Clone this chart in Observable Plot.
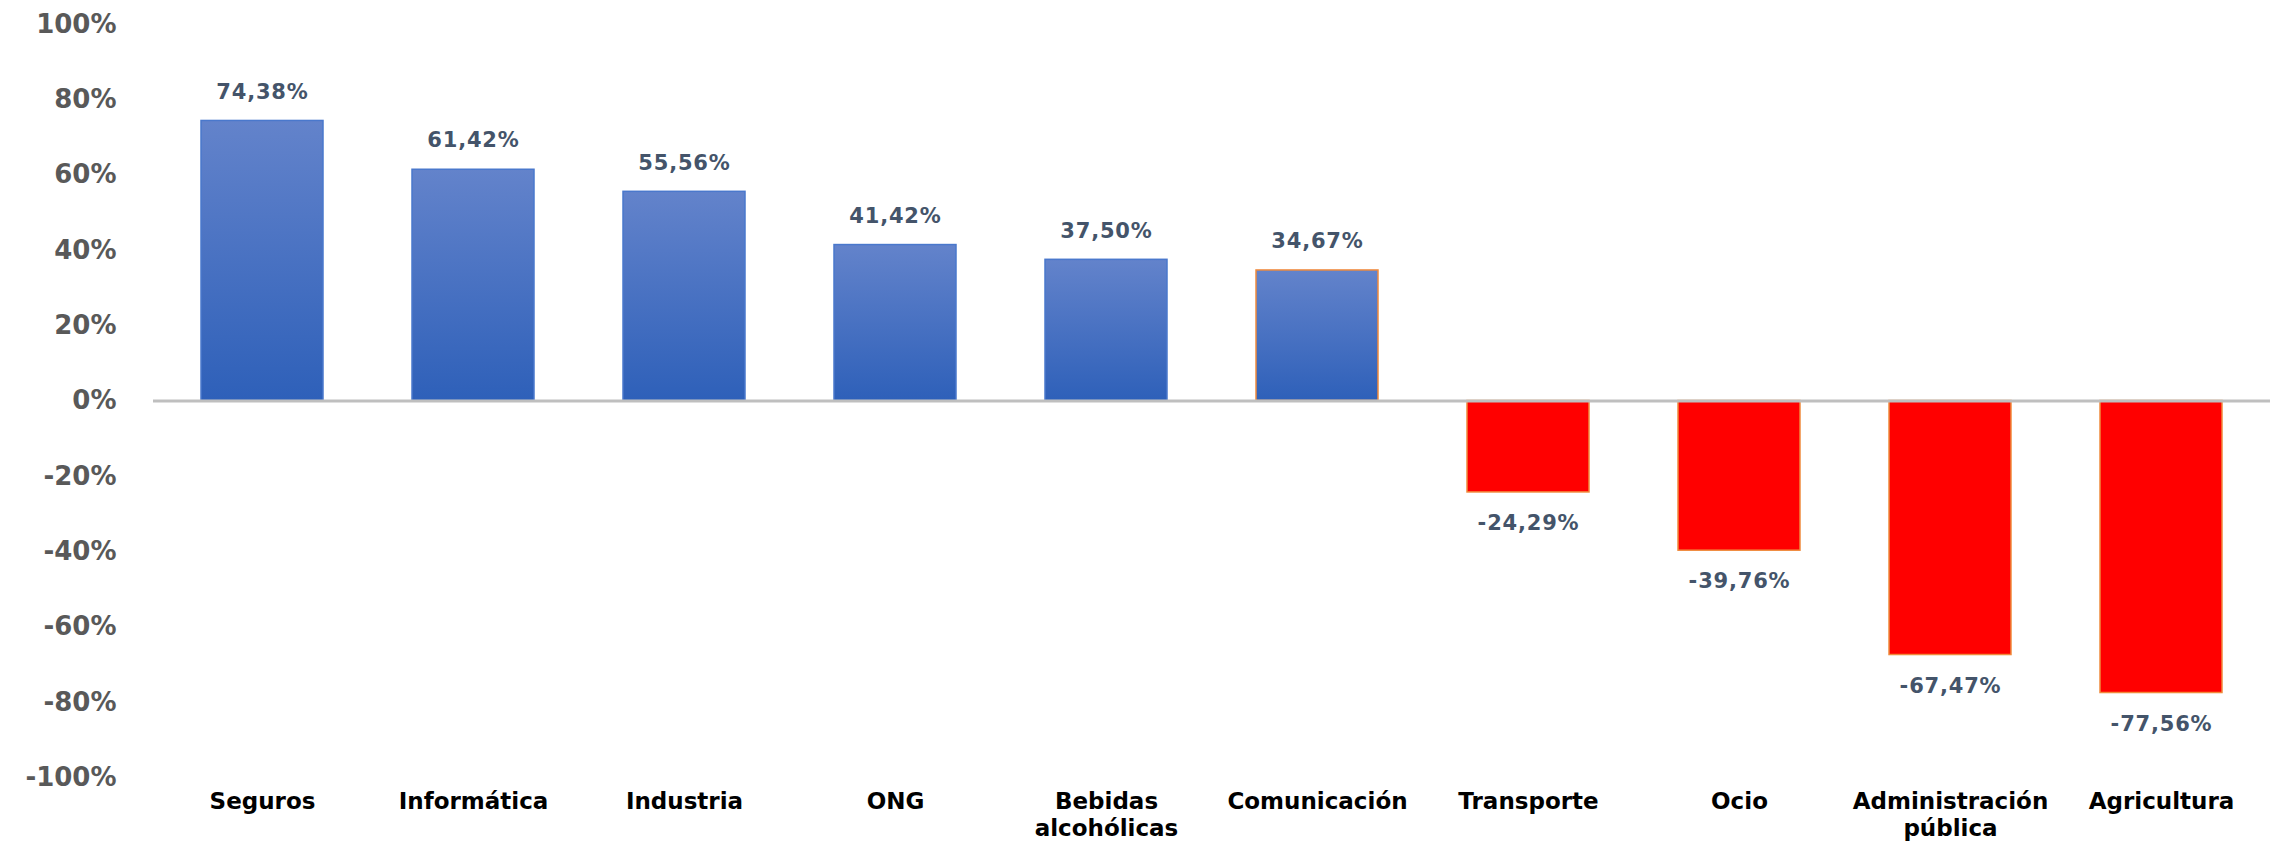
<!DOCTYPE html>
<html><head><meta charset="utf-8">
<script src="https://cdn.jsdelivr.net/npm/d3@7"></script>
<script src="https://cdn.jsdelivr.net/npm/@observablehq/plot@0.6"></script>
<style>
body{margin:0;background:#fff;}
g[aria-label="text"] text{letter-spacing:0.8px;}
</style>
</head><body><div id="chart"></div>
<script>
const categories = ["Seguros","Informática","Industria","ONG","Bebidas alcohólicas","Comunicación","Transporte","Ocio","Administración pública","Agricultura"];
const tickLabels = ["Seguros","Informática","Industria","ONG","Bebidas\nalcohólicas","Comunicación","Transporte","Ocio","Administración\npública","Agricultura"];
const values = [74.38, 61.42, 55.56, 41.42, 37.50, 34.67, -24.29, -39.76, -67.47, -77.56];
const yTicks = [-100,-80,-60,-40,-20,0,20,40,60,80,100];

const data = categories.map((c,i)=>({cat:c, value:values[i]}));
const labelOf = new Map(categories.map((c,i)=>[c, tickLabels[i]]));
const fmt = v => v.toFixed(2).replace(".", ",") + "%";
const strokeOf = d => d.value < 0 || d.cat === "Comunicación" ? "#f08a3c" : "#4a78cc";
const fillOf = d => d.value < 0 ? "#ff0000" : "url(#blueGrad)";

const plot = Plot.plot({
  width: 2280, height: 845,
  marginLeft: 153, marginRight: 10, marginTop: 24, marginBottom: 68,
  style: {fontFamily: "'DejaVu Sans', sans-serif", background: "white", overflow: "visible"},
  x: {domain: categories, paddingInner: 0.42, paddingOuter: 0.21, axis: null},
  y: {domain: [-100, 100], axis: null},
  color: {type: "identity"},
  marks: [
    Plot.axisY({ticks: yTicks, tickSize: 0, tickPadding: 37, tickFormat: d => d + "%",
      fontSize: 26, fontWeight: "bold", fill: "#595959", label: null}),
    Plot.axisX({tickSize: 0, tickPadding: 13, tickFormat: d => labelOf.get(d),
      fontSize: 23, fontWeight: "bold", fill: "#000", label: null, lineHeight: 1.15}),
    Plot.barY(data, {x: "cat", y: "value", fill: fillOf, stroke: strokeOf, strokeWidth: 1.5}),
    Plot.ruleY([0], {stroke: "#bfbfbf", strokeWidth: 3}),
    Plot.text(data.filter(d => d.value >= 0), {x: "cat", y: "value", text: d => fmt(d.value),
      dy: -29, fontSize: 21, fontWeight: "bold", fill: "#44546a"}),
    Plot.text(data.filter(d => d.value < 0), {x: "cat", y: "value", text: d => fmt(d.value),
      dy: 31, fontSize: 21, fontWeight: "bold", fill: "#44546a"})
  ]
});

const svg = d3.select(plot);
const defs = svg.insert("defs", ":first-child");
const g = defs.append("linearGradient").attr("id", "blueGrad")
  .attr("x1", 0).attr("y1", 0).attr("x2", 0).attr("y2", 1);
g.append("stop").attr("offset", "0%").attr("stop-color", "#6383cb");
g.append("stop").attr("offset", "100%").attr("stop-color", "#2e60b9");

document.getElementById("chart").append(plot);
</script>
</body></html>
